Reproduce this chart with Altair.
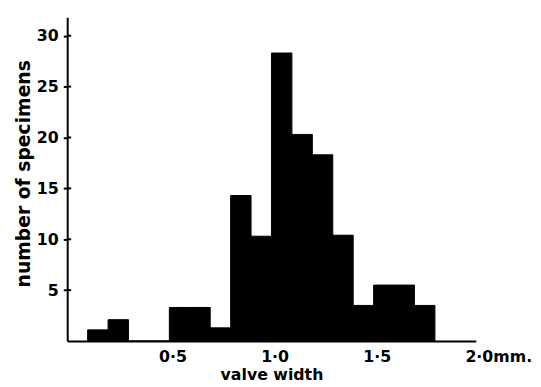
import altair as alt
import pandas as pd

# histogram bins (mm) and specimen counts
bin_start = [0.1, 0.2, 0.3, 0.4, 0.5, 0.6, 0.7, 0.8, 0.9, 1.0, 1.1, 1.2, 1.3, 1.4, 1.5, 1.6, 1.7]
bin_end = [0.2, 0.3, 0.4, 0.5, 0.6, 0.7, 0.8, 0.9, 1.0, 1.1, 1.2, 1.3, 1.4, 1.5, 1.6, 1.7, 1.8]
counts = [1.1, 2.1, 0, 0, 3.3, 3.3, 1.3, 14.3, 10.3, 28.3, 20.3, 18.3, 10.4, 3.5, 5.5, 5.5, 3.5]

x_ticks = [0.5, 1.0, 1.5, 2.0]
y_ticks = [5, 10, 15, 20, 25, 30]

df = pd.DataFrame({"start": bin_start, "end": bin_end, "count": counts})
ticks_df = pd.DataFrame({"t": y_ticks})

FONT = "DejaVu Sans"

xscale = alt.Scale(domain=[0, 2.0], nice=False, zero=False)
yscale = alt.Scale(domain=[0, 31.8], nice=False)

bars = alt.Chart(df).mark_rect(color="black", stroke="black", strokeWidth=1).encode(
    x=alt.X(
        "start:Q",
        scale=xscale,
        axis=alt.Axis(
            values=x_ticks,
            title="valve width",
            ticks=False,
            tickSize=0,
            grid=False,
            domainColor="black",
            domainWidth=2,
            labelFont=FONT,
            labelFontWeight="bold",
            labelFontSize=16,
            labelColor="black",
            labelAlign="left",
            labelOffset=-11,
            labelPadding=8,
            labelExpr="datum.value == 2 ? '2·0mm.' : replace(format(datum.value, '.1f'), '.', '·')",
            titleFont=FONT,
            titleFontWeight="bold",
            titleFontSize=16,
            titleColor="black",
            titlePadding=2,
        ),
    ),
    x2="end:Q",
    y=alt.Y(
        "count:Q",
        scale=yscale,
        axis=alt.Axis(
            values=y_ticks,
            title="number of specimens",
            grid=False,
            domainColor="black",
            domainWidth=2,
            tickColor="black",
            tickWidth=2,
            tickSize=4,
            labelFont=FONT,
            labelFontWeight="bold",
            labelFontSize=16,
            labelColor="black",
            labelPadding=5,
            titleFont=FONT,
            titleFontWeight="bold",
            titleFontSize=19,
            titleColor="black",
            titlePadding=3,
            titleY=158,
        ),
    ),
    y2=alt.datum(0),
)

inner_ticks = alt.Chart(ticks_df).mark_rule(color="black", strokeWidth=2).encode(
    y=alt.Y("t:Q", scale=yscale),
    x=alt.value(0),
    x2=alt.value(4),
)

chart = (
    alt.layer(bars, inner_ticks)
    .properties(
        width=414,
        height=328,
        autosize=alt.AutoSizeParams(type="none"),
        padding={"left": 60, "top": 7, "right": 58, "bottom": 40},
        background="white",
    )
    .configure_view(stroke=None)
)

chart.save("out.html", embed_options={"renderer": "svg", "actions": False})
